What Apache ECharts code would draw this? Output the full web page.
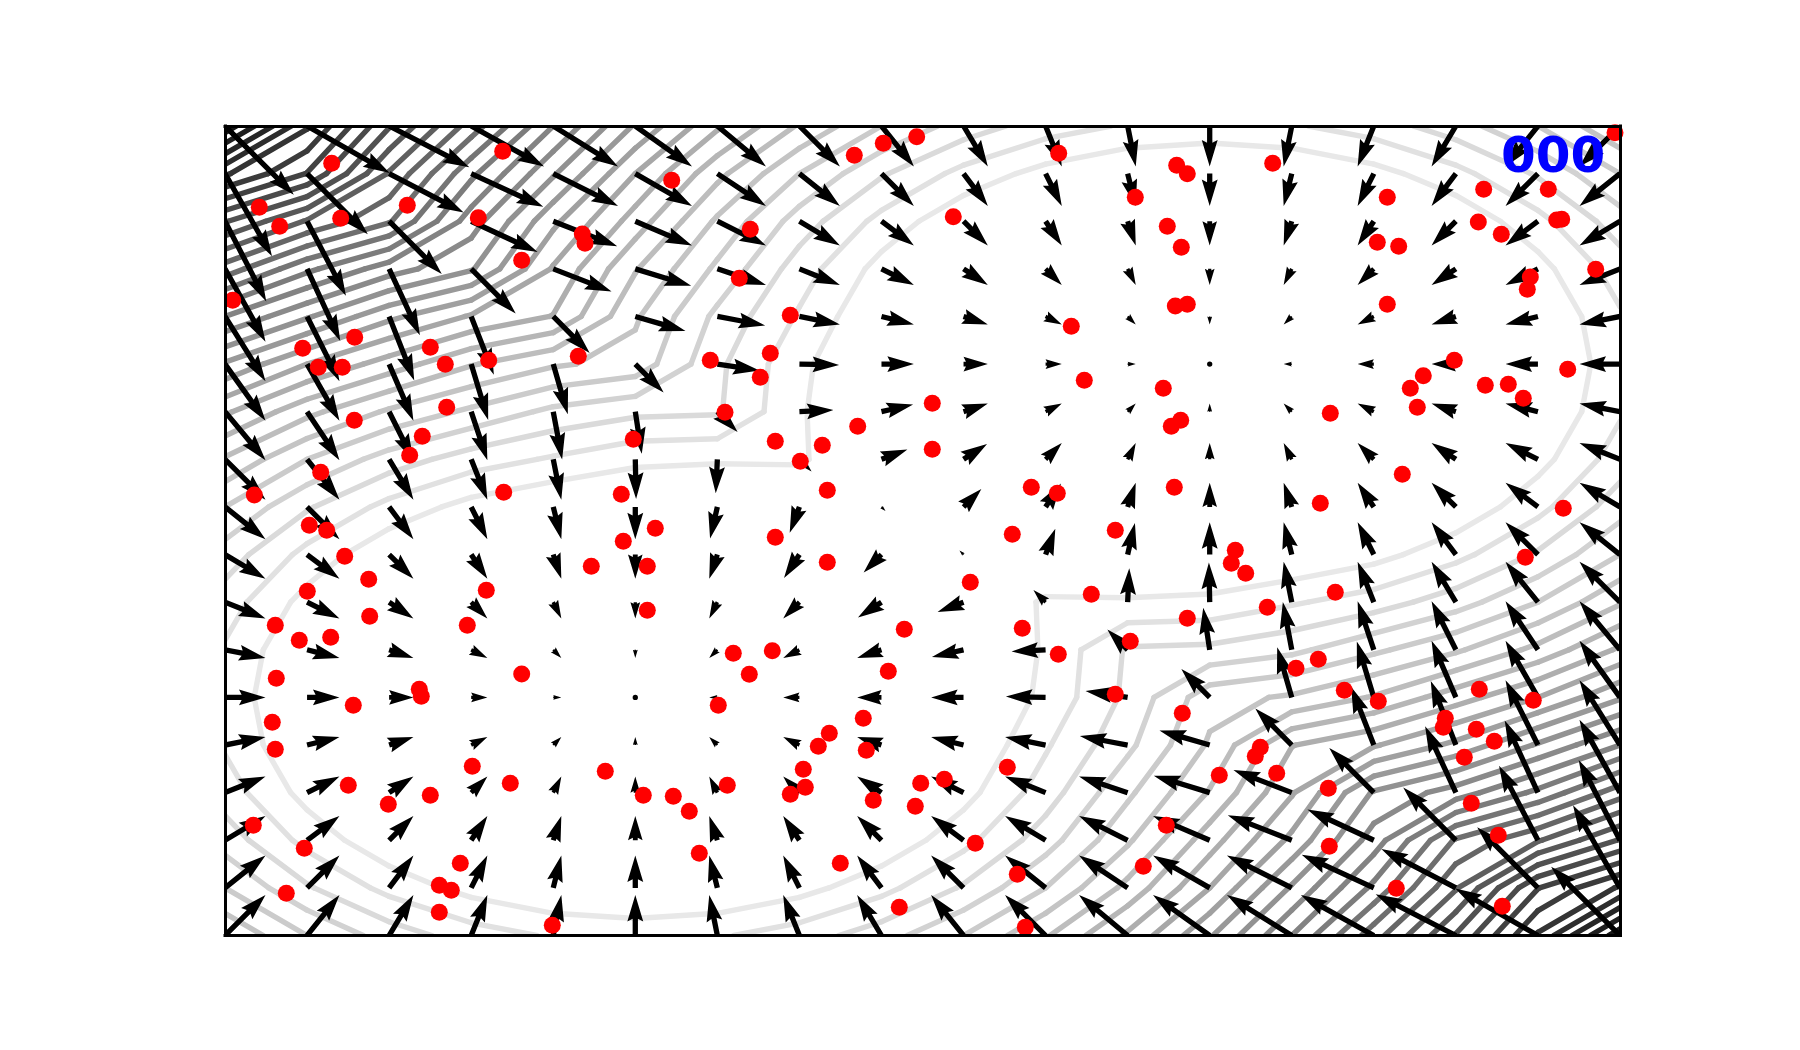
<!DOCTYPE html>
<html><head><meta charset="utf-8">
<style>html,body{margin:0;padding:0;background:#fff}#c{width:1800px;height:1050px}</style>
<script src="https://cdn.jsdelivr.net/npm/echarts@6/dist/echarts.min.js"></script>
</head><body><div id="c"></div>
<script>
// Field: 18 x 18 grid, rows from the top, arrows in grid-cell units.
const fieldU = [
[8.5,10.2,9.9,9,8,7,6,5,4,3,2,1,0,-1,-2,-3,-4,-5],
[5.8,7.5,9.2,8.9,8,7,6,5,4,3,2,1,0,-1,-2,-3,-4,-5],
[5.1,4.8,6.5,8.2,7.9,7,6,5,4,3,2,1,0,-1,-2,-3,-4,-5],
[5,4.1,3.8,5.5,7.2,6.9,6,5,4,3,2,1,0,-1,-2,-3,-4,-5],
[5,4,3.1,2.8,4.5,6.2,5.9,5,4,3,2,1,0,-1,-2,-3,-4,-5],
[5,4,3,2.1,1.8,3.5,5.2,4.9,4,3,2,1,0,-1,-2,-3,-4,-5],
[5,4,3,2,1.1,0.8,2.5,4.2,3.9,3,2,1,0,-1,-2,-3,-4,-5],
[5,4,3,2,1,0.1,-0.2,1.5,3.2,2.9,2,1,0,-1,-2,-3,-4,-5],
[5,4,3,2,1,0,-0.9,-1.2,0.5,2.2,1.9,1,0,-1,-2,-3,-4,-5],
[5,4,3,2,1,0,-1,-1.9,-2.2,-0.5,1.2,0.9,0,-1,-2,-3,-4,-5],
[5,4,3,2,1,0,-1,-2,-2.9,-3.2,-1.5,0.2,-0.1,-1,-2,-3,-4,-5],
[5,4,3,2,1,0,-1,-2,-3,-3.9,-4.2,-2.5,-0.8,-1.1,-2,-3,-4,-5],
[5,4,3,2,1,0,-1,-2,-3,-4,-4.9,-5.2,-3.5,-1.8,-2.1,-3,-4,-5],
[5,4,3,2,1,0,-1,-2,-3,-4,-5,-5.9,-6.2,-4.5,-2.8,-3.1,-4,-5],
[5,4,3,2,1,0,-1,-2,-3,-4,-5,-6,-6.9,-7.2,-5.5,-3.8,-4.1,-5],
[5,4,3,2,1,0,-1,-2,-3,-4,-5,-6,-7,-7.9,-8.2,-6.5,-4.8,-5.1],
[5,4,3,2,1,0,-1,-2,-3,-4,-5,-6,-7,-8,-8.9,-9.2,-7.5,-5.8],
[5,4,3,2,1,0,-1,-2,-3,-4,-5,-6,-7,-8,-9,-9.9,-10.2,-8.5]
];
const fieldV = [
[8.5,5.8,5.1,5,5,5,5,5,5,5,5,5,5,5,5,5,5,5],
[10.2,7.5,4.8,4.1,4,4,4,4,4,4,4,4,4,4,4,4,4,4],
[9.9,9.2,6.5,3.8,3.1,3,3,3,3,3,3,3,3,3,3,3,3,3],
[9,8.9,8.2,5.5,2.8,2.1,2,2,2,2,2,2,2,2,2,2,2,2],
[8,8,7.9,7.2,4.5,1.8,1.1,1,1,1,1,1,1,1,1,1,1,1],
[7,7,7,6.9,6.2,3.5,0.8,0.1,0,0,0,0,0,0,0,0,0,0],
[6,6,6,6,5.9,5.2,2.5,-0.2,-0.9,-1,-1,-1,-1,-1,-1,-1,-1,-1],
[5,5,5,5,5,4.9,4.2,1.5,-1.2,-1.9,-2,-2,-2,-2,-2,-2,-2,-2],
[4,4,4,4,4,4,3.9,3.2,0.5,-2.2,-2.9,-3,-3,-3,-3,-3,-3,-3],
[3,3,3,3,3,3,3,2.9,2.2,-0.5,-3.2,-3.9,-4,-4,-4,-4,-4,-4],
[2,2,2,2,2,2,2,2,1.9,1.2,-1.5,-4.2,-4.9,-5,-5,-5,-5,-5],
[1,1,1,1,1,1,1,1,1,0.9,0.2,-2.5,-5.2,-5.9,-6,-6,-6,-6],
[0,0,0,0,0,0,0,0,0,0,-0.1,-0.8,-3.5,-6.2,-6.9,-7,-7,-7],
[-1,-1,-1,-1,-1,-1,-1,-1,-1,-1,-1,-1.1,-1.8,-4.5,-7.2,-7.9,-8,-8],
[-2,-2,-2,-2,-2,-2,-2,-2,-2,-2,-2,-2,-2.1,-2.8,-5.5,-8.2,-8.9,-9],
[-3,-3,-3,-3,-3,-3,-3,-3,-3,-3,-3,-3,-3,-3.1,-3.8,-6.5,-9.2,-9.9],
[-4,-4,-4,-4,-4,-4,-4,-4,-4,-4,-4,-4,-4,-4,-4.1,-4.8,-7.5,-10.2],
[-5,-5,-5,-5,-5,-5,-5,-5,-5,-5,-5,-5,-5,-5,-5,-5.1,-5.8,-8.5]
];
// Height table behind the contour lines, same grid.
const heightZ = [
[169,147.5,128,111,94,79,66,55,46,39,34,31,30,31,34,39,46,55],
[147.5,137,117.5,100,85,70,57,46,37,30,25,22,21,22,25,30,37,46],
[128,117.5,109,91.5,76,63,50,39,30,23,18,15,14,15,18,23,30,39],
[111,100,91.5,85,69.5,56,45,34,25,18,13,10,9,10,13,18,25,34],
[94,85,76,69.5,65,51.5,40,31,22,15,10,7,6,7,10,15,22,31],
[79,70,63,56,51.5,49,37.5,28,21,14,9,6,5,6,9,14,21,30],
[66,57,50,45,40,37.5,37,27.5,20,15,10,7,6,7,10,15,22,31],
[55,46,39,34,31,28,27.5,27.5,21.5,16,13,10,9,10,13,18,25,34],
[46,37,30,25,22,21,20,21.5,25,19.5,16,15,14,15,18,23,30,39],
[39,30,23,18,15,14,15,16,19.5,25,21.5,20,21,22,25,30,37,46],
[34,25,18,13,10,9,10,13,16,21.5,27.5,27.5,28,31,34,39,46,55],
[31,22,15,10,7,6,7,10,15,20,27.5,37,37.5,40,45,50,57,66],
[30,21,14,9,6,5,6,9,14,21,28,37.5,49,51.5,56,63,70,79],
[31,22,15,10,7,6,7,10,15,22,31,40,51.5,65,69.5,76,85,94],
[34,25,18,13,10,9,10,13,18,25,34,45,56,69.5,85,91.5,100,111],
[39,30,23,18,15,14,15,18,23,30,39,50,63,76,91.5,109,117.5,128],
[46,37,30,25,22,21,22,25,30,37,46,57,70,85,100,117.5,137,147.5],
[55,46,39,34,31,30,31,34,39,46,55,66,79,94,111,128,147.5,169]
];
const contourLevels = [26.8,31.6,36.4,41.2,46,50.8,55.6,60.4,65.2,70,74.8,79.6,84.4,89.2,94,98.8,103.6,108.4,113.2,118,122.8,127.6,132.4,137.2,142,146.8,151.6,156.4,161.2,166];
// Red points, measured across and down from the top-left corner of the frame.
const pointsX = [106.7,34.3,54.7,115.7,182.3,277.7,253.3,296.7,7.7,129.7,77.7,93.3,117.3,205.3,220.3,263.7,446.7,357.3,360,353.3,629.3,658.3,691.7,525.3,514.3,565.3,485.3,545.3,535.3,728.3,833.7,951.7,962.3,1047.7,910.3,942.3,956.3,950.3,962.3,846.3,859.3,938.3,1390,1162.3,1152.3,1173.7,1162.3,1258.7,1323.3,1253.3,1276.3,1331.7,1336.7,1370.7,1305.3,1302.3,1342.7,1229.3,1198.3,1185.3,1260.3,1283.3,1298.3,129.3,221.7,197.3,184.7,95.7,29.3,278.7,84.3,101.7,119.7,143.7,82.3,261.3,144.7,242.3,50.3,74.3,105.7,296.7,500,408.3,550.3,597.3,632.7,575.3,602.3,396.3,430.3,398.3,550.3,366.3,422.3,602.3,422.3,679.3,508.3,547.3,663.3,524.3,707.3,707.3,955.7,946.3,806.3,832.3,949.3,787.3,890.3,745.3,1010.3,1006.3,1020.7,866.3,1042.3,962.3,797.3,905.3,833.3,1105.3,1192.3,1177.3,1095.3,1338.3,1300.3,1110.3,1093.3,1071,51.3,194.3,196.3,128.3,47.3,50.3,247.3,285.3,123.3,205.3,163.3,28.3,79.3,235.3,214.3,226.3,61.3,214.3,327.3,380.3,493.3,638.3,604.3,593.3,641.3,578.3,580.3,565.3,502.3,418.3,448.3,464.3,474.3,615.3,674.3,648.3,695.7,690.3,890.3,957.3,782.3,719.3,994.3,1035.3,1030.3,1051.7,941.3,750.3,918.3,792.3,800.3,1119.3,1153.3,1254.3,1308.3,1220.3,1218.3,1251.3,1269.3,1239.3,1103.3,1246.3,1273.3,1104.3,1171.3,1277.3];
const pointsY = [37.3,81.3,100.3,92.3,79.3,25.3,91.7,134.3,174.3,211.3,222.3,241.3,241.3,221.3,238.3,234.3,54.3,108,117.3,230.3,29.3,17.3,10.7,103.3,152.3,189.3,234.3,227.3,251.3,90.7,27.3,39.3,47.7,37.3,71.3,100.3,121.3,180,178.3,200.3,254.3,262.3,6.7,71.3,116.3,120.3,178.3,63.3,63.3,96,108.3,94,93.3,143.3,151,163.3,243.3,234.3,249.7,262.3,259.3,258.3,272.3,294.3,281.3,310.3,329.3,346.3,369,366.3,399.3,404.3,430.3,453.3,465.3,464.3,490.3,499.3,499.3,514.3,511.3,548,286.3,313.3,315.3,319.3,300.3,335.3,364.3,368.3,402.3,415.3,411.3,440.3,440.3,436.3,484.3,503.3,527.3,524.7,545.3,548.3,277.3,323.3,294.3,300.3,361.3,367.3,361.3,408.3,404.3,456.3,424.3,437.3,447.3,468.3,481.3,492.3,502.3,515.3,528.3,287.3,281.3,348.3,377.3,382.3,431.3,466.3,533.3,542.3,552.3,563.3,570.3,579.3,596.3,623.3,640.3,657.3,659.3,669.3,678.3,699.3,722.3,737.3,759.3,764.3,767.3,786.3,799.3,645.3,579.3,592.3,607.3,620.3,624.3,643.3,661.3,668.3,659.3,669.3,670.3,685.3,727.3,737.3,781.3,674.3,657.3,680.3,568.3,587.3,641.3,653.3,649.3,621.3,630.3,647.3,699.3,717.3,740.3,748.3,801.3,564.3,575.3,563.3,574.3,592.3,601.3,603.3,615.3,631.3,662.3,677.3,709.3,720.3,762.3,780.3];
const frameLabel = '000';

// Arrow drawing parameters (quiver-like: fixed head, short arrows shrink).
const ARROW_PX_PER_UNIT = 8.1, W = 5.3;
const arrowData = [];
fieldU.forEach((row, r) => row.forEach((u, c) => arrowData.push([c, r, u, fieldV[r][c]])));

// Marching squares over the height table.
function contourSegments() {
  const out = [];
  const n = heightZ.length, m = heightZ[0].length;
  contourLevels.forEach((L, k) => {
    for (let r = 0; r < n - 1; r++) for (let c = 0; c < m - 1; c++) {
      const a = heightZ[r][c], b = heightZ[r][c + 1], d = heightZ[r + 1][c], e = heightZ[r + 1][c + 1];
      const pts = {};
      if ((a < L) !== (b < L)) pts.t = [c + (L - a) / (b - a), r];
      if ((b < L) !== (e < L)) pts.r = [c + 1, r + (L - b) / (e - b)];
      if ((d < L) !== (e < L)) pts.b = [c + (L - d) / (e - d), r + 1];
      if ((a < L) !== (d < L)) pts.l = [c, r + (L - a) / (d - a)];
      const keys = Object.keys(pts);
      const seg = (p, q) => out.push([pts[p][0], pts[p][1], pts[q][0], pts[q][1], k]);
      if (keys.length === 2) seg(keys[0], keys[1]);
      else if (keys.length === 4) {
        const mid = (a + b + d + e) / 4;
        if ((mid < L) === (a < L)) { seg('t', 'r'); seg('l', 'b'); }
        else { seg('t', 'l'); seg('r', 'b'); }
      }
    }
  });
  return out;
}
const levelGray = k => { const g = Math.round(232 - 7.2 * k); return `rgb(${g},${g},${g})`; };

function arrowItem(params, api) {
  const c = api.value(0), r = api.value(1), u = api.value(2), v = api.value(3);
  const p = api.coord([c, r]);
  const L = Math.hypot(u, v) * ARROW_PX_PER_UNIT;
  if (L < W) return { type: 'circle', shape: { cx: p[0], cy: p[1], r: W / 2 }, style: { fill: '#000' }, silent: true };
  const ca = u * ARROW_PX_PER_UNIT / L, sa = v * ARROW_PX_PER_UNIT / L;
  const minsh = 5 * W;
  let xs, ys;
  if (L < minsh) {
    const s = L / minsh;
    xs = [0, 0.5 * W * s, 0, L];
    ys = [0.5 * W * s, 0.5 * W * s, 1.5 * W * s, 0];
  } else {
    xs = [0, L - 4.5 * W, L - 5 * W, L];
    ys = [0.5 * W, 0.5 * W, 1.5 * W, 0];
  }
  const local = [];
  for (let i = 0; i < 4; i++) local.push([xs[i], ys[i]]);
  for (let i = 2; i >= 0; i--) local.push([xs[i], -ys[i]]);
  const points = local.map(q => [p[0] + q[0] * ca - q[1] * sa, p[1] + q[0] * sa + q[1] * ca]);
  return { type: 'polygon', shape: { points }, style: { fill: '#000' }, silent: true };
}
function contourItem(params, api) {
  const a = api.coord([api.value(0), api.value(1)]), b = api.coord([api.value(2), api.value(3)]);
  return { type: 'line', shape: { x1: a[0], y1: a[1], x2: b[0], y2: b[1] },
    style: { stroke: levelGray(api.value(4)), lineWidth: 5.4, lineCap: 'round' }, silent: true };
}
const frameAxis = { type: 'value', z: 20, silent: true,
  axisLine: { show: true, onZero: false, lineStyle: { color: '#000', width: 3, cap: 'square' } },
  axisTick: { show: false }, axisLabel: { show: false }, splitLine: { show: false } };
const chart = echarts.init(document.getElementById('c'), null, { renderer: 'canvas' });
chart.setOption({
  backgroundColor: '#fff',
  animation: false,
  grid: { left: 225, top: 126, width: 1395, height: 809.5 },
  xAxis: [
    Object.assign({}, frameAxis, { position: 'bottom', min: 0, max: 17 }),
    Object.assign({}, frameAxis, { position: 'top', min: 0, max: 1395 })
  ],
  yAxis: [
    Object.assign({}, frameAxis, { position: 'left', min: 0, max: 17, inverse: true }),
    Object.assign({}, frameAxis, { position: 'right', min: 0, max: 809.5, inverse: true })
  ],
  series: [
    { type: 'custom', name: 'contours', xAxisIndex: 0, yAxisIndex: 0, clip: true, z: 2, progressive: 0,
      data: contourSegments(), renderItem: contourItem, encode: { x: [0, 2], y: [1, 3] } },
    { type: 'custom', name: 'arrows', xAxisIndex: 0, yAxisIndex: 0, clip: true, z: 3, progressive: 0,
      data: arrowData, renderItem: arrowItem, encode: { x: 0, y: 1 } },
    { type: 'scatter', name: 'points', xAxisIndex: 1, yAxisIndex: 1, z: 4, clip: true, silent: true,
      symbol: 'circle', symbolSize: 17, itemStyle: { color: '#ff0000', opacity: 1 }, progressive: 0,
      data: pointsX.map((x, i) => [x, pointsY[i]]) }
  ],
  graphic: [{ type: 'text', z: 30, silent: true, left: 1501, top: 134,
    style: { text: frameLabel, fill: '#0000ff', font: 'bold 50px "DejaVu Sans"' } }]
});
</script></body></html>
